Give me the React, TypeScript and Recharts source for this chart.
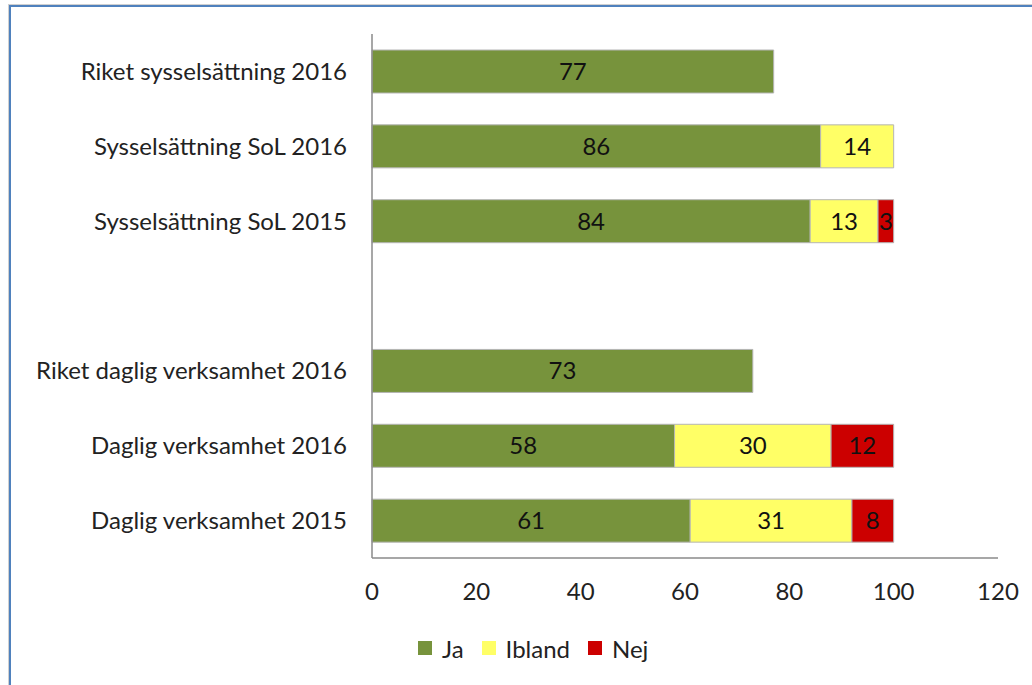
import React from "react";
import { BarChart, Bar, XAxis, YAxis, LabelList } from "recharts";

const categories = [
  "Riket sysselsättning 2016",
  "Sysselsättning SoL 2016",
  "Sysselsättning SoL 2015",
  "",
  "Riket daglig verksamhet 2016",
  "Daglig verksamhet 2016",
  "Daglig verksamhet 2015",
];
const jaValues = [77, 86, 84, null, 73, 58, 61];
const iblandValues = [null, 14, 13, null, null, 30, 31];
const nejValues = [null, null, 3, null, null, 12, 8];
const xTicks = [0, 20, 40, 60, 80, 100, 120];

const seriesNames = ["Ja", "Ibland", "Nej"];
const seriesColors = ["#77933C", "#FFFF66", "#CC0000"];

const data = categories.map((c, i) => ({
  name: c,
  Ja: jaValues[i],
  Ibland: iblandValues[i],
  Nej: nejValues[i],
}));

const FONT = "Lato, 'Open Sans', sans-serif";
const FS = 24;

const LegendBox = () => (
  <div
    style={{
      position: "absolute",
      left: 418,
      top: 634,
      height: 28,
      display: "flex",
      alignItems: "center",
      fontFamily: FONT,
      fontSize: FS,
      color: "#222",
    }}
  >
    {seriesNames.map((n, i) => (
      <div key={n} style={{ display: "flex", alignItems: "center", marginRight: 18 }}>
        <div style={{ width: 14, height: 14, background: seriesColors[i], marginRight: 10 }} />
        <span>{n}</span>
      </div>
    ))}
  </div>
);

export default function App() {
  return (
    <div style={{ position: "absolute", left: 0, top: 0, width: 1032, height: 685, background: "#fff", overflow: "hidden" }}>
      <div
        style={{
          position: "absolute",
          left: 9,
          top: 5,
          width: 1100,
          height: 700,
          borderLeft: "2px solid #4F81BD",
          borderTop: "2px solid #4F81BD",
          boxShadow: "-1px -1px 0 #d0d0d0",
        }}
      />
      <div style={{ position: "absolute", left: 0, top: 0 }}>
        <BarChart
          width={1032}
          height={685}
          data={data}
          layout="vertical"
          margin={{ top: 34, right: 34, bottom: 67, left: 10 }}
          barSize={43}
          style={{ fontFamily: FONT }}
        >
          <XAxis
            type="number"
            domain={[0, 120]}
            ticks={xTicks}
            axisLine={{ stroke: "#8a8a8a", strokeWidth: 1.5 }}
            tickLine={false}
            tickSize={0}
            tickMargin={25}
            tick={{ fontSize: FS, fill: "#222" }}
            height={60}
            interval={0}
          />
          <YAxis
            type="category"
            dataKey="name"
            width={362}
            axisLine={{ stroke: "#8a8a8a", strokeWidth: 1.5 }}
            tickLine={false}
            tickSize={0}
            tickMargin={25}
            tick={{ fontSize: FS, fill: "#222" }}
            interval={0}
          />
          {seriesNames.map((n, i) => (
            <Bar
              key={n}
              dataKey={n}
              stackId="a"
              fill={seriesColors[i]}
              stroke="#b5b5b5"
              strokeWidth={1}
              isAnimationActive={false}
            >
              <LabelList dataKey={n} position="center" fill="#111" fontSize={FS} fontFamily={FONT} />
            </Bar>
          ))}
        </BarChart>
      </div>
      <LegendBox />
    </div>
  );
}
